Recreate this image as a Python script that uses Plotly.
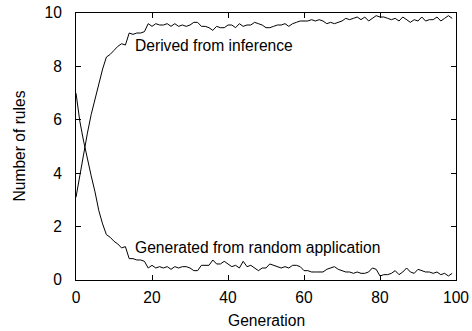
import plotly.graph_objects as go

generation = list(range(100))

derived = [3.1, 3.9, 4.8, 5.5, 6.2, 6.8, 7.4, 7.9, 8.35, 8.45,
           8.6, 8.75, 8.85, 8.8, 9.25, 9.2, 9.25, 9.25, 9.3, 9.6,
           9.5, 9.6, 9.55, 9.55, 9.6, 9.5, 9.6, 9.5, 9.55, 9.5,
           9.55, 9.65, 9.65, 9.5, 9.5, 9.45, 9.35, 9.5, 9.45, 9.45,
           9.55, 9.55, 9.45, 9.6, 9.5, 9.55, 9.55, 9.65, 9.6, 9.55,
           9.45, 9.45, 9.5, 9.55, 9.55, 9.6, 9.5, 9.6, 9.65, 9.7,
           9.7, 9.7, 9.75, 9.7, 9.75, 9.7, 9.6, 9.65, 9.6, 9.65,
           9.7, 9.8, 9.75, 9.8, 9.85, 9.75, 9.85, 9.7, 9.8, 9.9,
           9.85, 9.85, 9.8, 9.75, 9.8, 9.7, 9.85, 9.75, 9.65, 9.75,
           9.7, 9.85, 9.7, 9.75, 9.75, 9.85, 9.7, 9.8, 9.9, 9.8]

generated = [7.0, 5.95, 5.2, 4.5, 3.9, 3.3, 2.6, 2.1, 1.7, 1.6,
             1.45, 1.35, 1.2, 1.25, 0.8, 0.8, 0.75, 0.75, 0.7, 0.45,
             0.55, 0.45, 0.5, 0.45, 0.5, 0.4, 0.5, 0.45, 0.5, 0.5,
             0.45, 0.35, 0.35, 0.55, 0.55, 0.55, 0.75, 0.6, 0.6, 0.7,
             0.6, 0.5, 0.55, 0.45, 0.7, 0.5, 0.55, 0.45, 0.35, 0.45,
             0.45, 0.6, 0.55, 0.5, 0.45, 0.5, 0.45, 0.55, 0.55, 0.5,
             0.35, 0.35, 0.3, 0.3, 0.3, 0.3, 0.4, 0.45, 0.5, 0.4,
             0.35, 0.3, 0.3, 0.25, 0.3, 0.25, 0.25, 0.3, 0.45, 0.4,
             0.15, 0.2, 0.2, 0.25, 0.35, 0.2, 0.3, 0.45, 0.3, 0.25,
             0.4, 0.35, 0.3, 0.3, 0.25, 0.3, 0.2, 0.25, 0.15, 0.25]

labels = ["Derived from inference", "Generated from random application"]
label_x = [15, 15]
label_y = [8.8, 1.2]

xticks = [0, 20, 40, 60, 80, 100]
yticks = [0, 2, 4, 6, 8, 10]

x_title = "Generation"
y_title = "Number of rules"

FONT = "Liberation Sans, Arial, sans-serif"
FS = 15.6

fig = go.Figure()
for series in (derived, generated):
    fig.add_trace(go.Scatter(x=generation, y=series, mode="lines",
                             line=dict(color="black", width=1),
                             showlegend=False, hoverinfo="skip"))

for t, xx, yy in zip(labels, label_x, label_y):
    fig.add_annotation(x=xx, y=yy, text=t, showarrow=False,
                       xanchor="left", yanchor="middle",
                       font=dict(family=FONT, size=FS, color="black"))

# axis titles as annotations (pixel offsets from plot area)
fig.add_annotation(x=0.5, y=0, xref="paper", yref="paper", text=x_title,
                   showarrow=False, xanchor="center", yanchor="middle", yshift=-40,
                   font=dict(family=FONT, size=FS, color="black"))
fig.add_annotation(x=0, y=0.5, xref="paper", yref="paper", text=y_title,
                   showarrow=False, xanchor="center", yanchor="middle", xshift=-57,
                   textangle=-90, font=dict(family=FONT, size=FS, color="black"))

axis_common = dict(showgrid=False, zeroline=False, showline=True, automargin=False,
                   linecolor="black", linewidth=1, mirror="allticks",
                   ticks="inside", ticklen=5, tickcolor="black", tickwidth=1,
                   tickfont=dict(family=FONT, size=FS, color="black"))

fig.update_xaxes(range=[0, 100], tickvals=xticks, ticktext=[str(v) for v in xticks],
                 ticklabelstandoff=3, **axis_common)
fig.update_yaxes(range=[0, 10], tickvals=yticks, ticktext=[str(v) for v in yticks],
                 ticklabelstandoff=10, **axis_common)

fig.update_layout(width=472, height=331,
                  margin=dict(l=75.5, r=15.5, t=13.3, b=51, pad=0, autoexpand=False),
                  plot_bgcolor="white", paper_bgcolor="white",
                  font=dict(family=FONT, size=FS, color="black"))

fig.write_html("out.html")
